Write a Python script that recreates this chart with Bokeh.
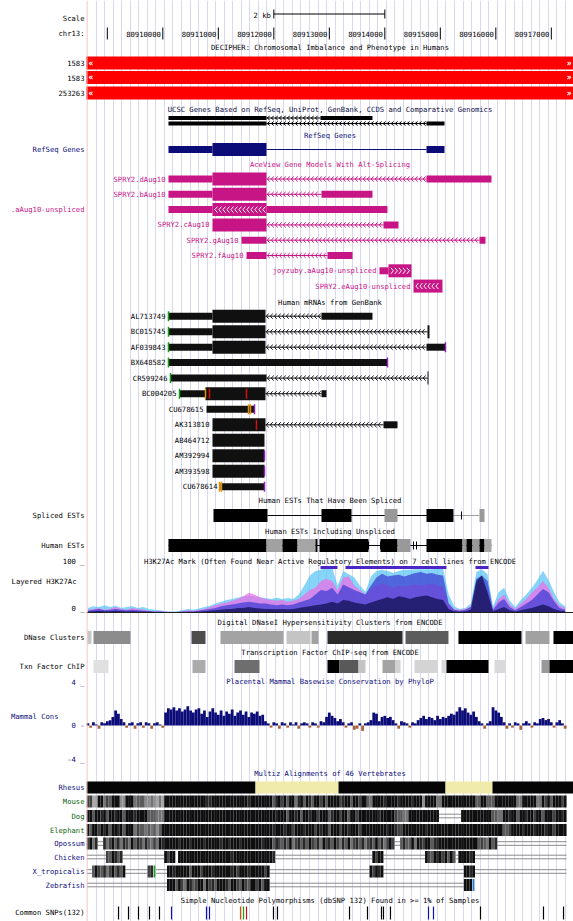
import numpy as np
from bokeh.plotting import figure
from bokeh.layouts import row
from bokeh.models import Range1d, FixedTicker, Grid, Span
from bokeh.embed import file_html
from bokeh.resources import INLINE
from bokeh.core.properties import value

# ====================== DATA (chr13, genomic coordinates) ======================
WINDOW = [80908625, 80917400]
RULER_TICKS = [80909000, 80910000, 80911000, 80912000, 80913000,
               80914000, 80915000, 80916000, 80917000]
RULER_LABELS = ["", "80910000", "80911000", "80912000", "80913000",
                "80914000", "80915000", "80916000", "80917000"]
SCALE_BAR = [80912000, 80914000]
SCALE_LABEL = "2 kb"

TRACK_TITLES = [
    "DECIPHER: Chromosomal Imbalance and Phenotype in Humans",
    "UCSC Genes Based on RefSeq, UniProt, GenBank, CCDS and Comparative Genomics",
    "RefSeq Genes",
    "AceView Gene Models With Alt-Splicing",
    "Human mRNAs from GenBank",
    "Human ESTs That Have Been Spliced",
    "Human ESTs Including Unspliced",
    "H3K27Ac Mark (Often Found Near Active Regulatory Elements) on 7 cell lines from ENCODE",
    "Digital DNaseI Hypersensitivity Clusters from ENCODE",
    "Transcription Factor ChIP-seq from ENCODE",
    "Placental Mammal Basewise Conservation by PhyloP",
    "Multiz Alignments of 46 Vertebrates",
    "Simple Nucleotide Polymorphisms (dbSNP 132) Found in >= 1% of Samples",
]

DECIPHER_IDS = ["1583", "1583", "253263"]
DECIPHER_START = [80820000, 80820000, 80400000]
DECIPHER_END = [81050000, 81050000, 81600000]

# blocks: (start, end, is_coding)
UCSC_GENES = [
    [(80910102, 80911868, 1), (80912841, 80913778, 1)],
    [(80910102, 80911868, 1), (80914751, 80915075, 1)],
]
REFSEQ = [[(80910102, 80910895, 0), (80910895, 80911868, 1), (80914751, 80915075, 0)]]

ACEVIEW_NAMES = ["SPRY2.dAug10", "SPRY2.bAug10", "SPRY2.aAug10-unspliced", "SPRY2.cAug10",
                 "SPRY2.gAug10", "SPRY2.fAug10", "joyzuby.aAug10-unspliced",
                 "SPRY2.eAug10-unspliced"]
ACEVIEW_STRAND = ["-", "-", "-", "-", "-", "-", "+", "-"]
ACEVIEW_UNSPLICED = [False, False, True, False, False, False, True, True]
ACEVIEW_BLOCKS = [
    [(80910102, 80910895, 0), (80910895, 80911868, 1), (80914751, 80915922, 0)],
    [(80910102, 80910895, 0), (80910895, 80911868, 1), (80912859, 80913778, 0)],
    [(80910102, 80910895, 0), (80910895, 80911868, 1), (80911868, 80914048, 0)],
    [(80910895, 80911868, 1), (80913976, 80914247, 0)],
    [(80911418, 80911868, 0), (80915706, 80915814, 0)],
    [(80911508, 80911868, 0), (80912967, 80913418, 0)],
    [(80913904, 80914066, 0), (80914066, 80914481, 1)],
    [(80914517, 80915039, 1)],
]

MRNA_NAMES = ["AL713749", "BC015745", "AF039843", "BX648582", "CR599246", "BC004205",
              "CU678615", "AK313810", "AB464712", "AM392994", "AM393598", "CU678614"]
MRNA_BLOCKS = [
    [(80910102, 80910895, 0), (80910895, 80911850, 1), (80912859, 80913778, 0)],
    [(80910102, 80910895, 0), (80910895, 80911850, 1), (80914769, 80914805, 1)],
    [(80910102, 80910895, 0), (80910895, 80911850, 1), (80914751, 80915093, 0)],
    [(80910102, 80914048, 0)],
    [(80910138, 80911868, 0), (80914769, 80914787, 1)],
    [(80910301, 80910769, 0), (80910769, 80911850, 1), (80912859, 80912949, 0)],
    [(80910787, 80911652, 0)],
    [(80910895, 80911850, 1), (80913976, 80914229, 0)],
    [(80910895, 80911832, 1)],
    [(80910895, 80911832, 1)],
    [(80910895, 80911832, 1)],
    [(80911039, 80911832, 0)],
]
# (row, position, kind)
MRNA_MARKS = [
    (0, 80910102, "start"), (1, 80910102, "start"), (2, 80910102, "start"),
    (3, 80910102, "start"), (4, 80910138, "start"), (5, 80910301, "start"),
    (5, 80910769, "insert"), (5, 80910841, "mismatch"), (5, 80911508, "mismatch"),
    (6, 80911544, "insert"), (6, 80911580, "insert"), (6, 80911652, "polyA"),
    (7, 80911688, "mismatch"), (9, 80911832, "polyA"), (10, 80911832, "polyA"),
    (11, 80911021, "insert"), (11, 80911057, "insert"), (11, 80911832, "polyA"),
    (2, 80915093, "polyA"), (3, 80914048, "polyA"),
]

# (start, end, darkness %)
SPLICED_EST = [(80910913, 80911886, 100), (80912859, 80913400, 100),
               (80913994, 80914229, 40), (80914751, 80915237, 100),
               (80915706, 80915796, 40)]
SPLICED_EST_TICKS = [80915381]
HUMAN_EST = [(80910102, 80911868, 100), (80911868, 80912156, 37), (80912156, 80912427, 100),
             (80912427, 80912751, 35), (80912751, 80912787, 100), (80912823, 80913706, 100),
             (80913922, 80914229, 100), (80914229, 80914463, 40), (80914751, 80915399, 100),
             (80915399, 80915471, 40), (80915471, 80915579, 100), (80915579, 80915706, 40),
             (80915706, 80915796, 100), (80915796, 80915922, 35)]
HUMAN_EST_TICKS = [80913706, 80913922, 80914517, 80914571]

# H3K27Ac signal, sampled every 100 bp from 80908650
H3K_POS = list(range(80908650, 80917251, 100))
H3K_HUVEC = [10, 14, 12, 16, 12, 15, 10, 12, 14, 10,
             12, 8, 6, 5, 3, 2, 3, 5, 8, 6,
             9, 12, 15, 20, 24, 28, 30, 33, 36, 38,
             36, 34, 32, 30, 33, 30, 32, 30, 40, 60,
             82, 92, 95, 100, 100, 60, 92, 85, 78, 60,
             46, 80, 92, 95, 92, 88, 92, 95, 95, 96,
             96, 96, 96, 98, 98, 40, 14, 8, 10, 20,
             90, 96, 85, 14, 45, 55, 26, 12, 28, 40,
             55, 72, 93, 72, 45, 22, 14]
H3K_NHLF = [6, 8, 10, 6, 8, 12, 8, 6, 10, 8,
            6, 4, 3, 3, 2, 1, 1, 3, 5, 4,
            6, 8, 12, 16, 20, 22, 26, 30, 36, 44,
            40, 34, 30, 28, 26, 28, 24, 26, 30, 40,
            50, 55, 70, 75, 70, 50, 78, 80, 60, 50,
            40, 55, 60, 65, 60, 55, 60, 58, 60, 62,
            60, 62, 65, 60, 58, 20, 8, 6, 8, 14,
            60, 70, 50, 8, 30, 40, 18, 8, 20, 30,
            45, 55, 70, 55, 30, 15, 10]
H3K_K562 = [4, 6, 8, 5, 6, 8, 6, 5, 6, 5,
            4, 3, 2, 2, 1, 1, 1, 2, 3, 3,
            4, 6, 8, 10, 14, 16, 18, 20, 22, 24,
            22, 20, 20, 18, 16, 18, 16, 18, 22, 26,
            30, 40, 50, 48, 55, 40, 62, 56, 50, 45,
            40, 60, 78, 86, 80, 82, 84, 80, 84, 88,
            90, 86, 88, 84, 82, 20, 6, 4, 6, 12,
            75, 82, 70, 6, 22, 30, 12, 5, 12, 20,
            28, 40, 52, 45, 25, 10, 6]
H3K_H1 = [2, 3, 4, 3, 3, 4, 3, 2, 3, 2,
          2, 2, 1, 1, 0, 0, 0, 1, 1, 1,
          2, 3, 4, 5, 6, 8, 8, 10, 10, 12,
          10, 9, 8, 8, 7, 8, 7, 8, 10, 12,
          14, 16, 18, 20, 24, 20, 28, 26, 22, 20,
          18, 22, 26, 30, 34, 30, 36, 34, 30, 34,
          36, 38, 34, 30, 28, 8, 3, 2, 3, 6,
          70, 82, 45, 3, 8, 12, 5, 2, 5, 8,
          10, 14, 18, 14, 8, 4, 3]
H3K_OVERFLOW = [(80912841, 80913147), (80913292, 80915111), (80915634, 80915868)]

DNASE = [(80908643, 80908715, 22), (80908751, 80909418, 45), (80910517, 80910769, 70),
         (80911039, 80912174, 36), (80912228, 80912661, 23), (80912679, 80912805, 37),
         (80912967, 80914319, 83), (80914373, 80915147, 64), (80915327, 80916463, 100),
         (80916535, 80916967, 37), (80917039, 80917400, 100)]
TFBS = [(80908751, 80909021, 12), (80910535, 80910769, 33), (80911292, 80911742, 57),
        (80912967, 80913184, 100), (80913184, 80913526, 65), (80913526, 80913652, 23),
        (80913958, 80914193, 36), (80914193, 80914283, 18), (80914535, 80914949, 17),
        (80915021, 80915111, 15), (80915111, 80915868, 100), (80915976, 80916174, 15),
        (80916823, 80916967, 40), (80916967, 80917400, 100)]

# PhyloP, 50-bp bins starting at 80908650
CONS_POS = list(range(80908650, 80917300, 50))
CONS_VALUES = [0.2, -0.2, 0.3, 0.1, -0.3, 0.3, 0.2, 0.4, 0.5, 0.8,
               1.4, 1.1, 0.6, 0.3, -0.2, 0.2, 0.3, -0.3, 0.2, 0.3,
               -0.2, 0.3, 0.2, -0.3, 0.2, 0.3, 0.1, -0.2, 1.2, 1.6,
               1.5, 1.7, 1.4, 1.6, 1.3, 1.5, 1.8, 1.4, 1.2, 1.5,
               1.6, 1.1, 1.4, 0.8, 1.3, 1.6, 1.2, 1.0, 1.4, 0.9,
               1.3, 1.1, 1.5, 0.9, 1.2, 1.4, 1.0, 1.3, 0.8, 1.2,
               1.1, 1.3, 0.9, 1.0, 0.4, 0.2, -0.2, 0.3, 0.2, -0.3,
               0.3, 0.2, -0.2, 0.3, 0.1, 0.3, -0.3, 0.2, 0.3, 0.2,
               -0.2, 0.3, 0.2, -0.2, 0.4, 0.3, 0.8, 1.2, 0.9, 0.7,
               0.4, 0.6, 0.3, -0.2, 0.2, 0.3, -0.4, -0.3, 0.2, -0.5,
               0.2, 0.3, 0.5, 1.2, 1.1, 0.4, 0.8, 0.9, 0.7, 0.8,
               0.5, 0.2, -0.3, 0.4, 0.3, 0.2, -0.2, 0.3, 0.2, 0.5,
               0.7, 0.9, 0.6, 0.8, 0.7, 0.5, 0.9, 0.6, 0.8, 0.7,
               0.9, 1.1, 1.0, 1.3, 1.7, 1.4, 1.6, 1.2, 1.0, 1.3,
               0.8, 0.4, 0.2, -0.3, 0.2, 0.4, 1.7, 1.4, 1.2, 0.8,
               0.3, -0.3, 0.2, -0.2, 0.3, 0.2, -0.4, 0.2, 0.4, 0.2,
               -0.2, 0.3, 0.2, 0.6, 0.7, 0.5, 0.6, 0.3, -0.2, 0.3,
               0.5, 0.2, -0.3]

# Multiz: 50-bp bins from window start; digit = conservation 0-9, '=' = gap, ' ' = none
MULTIZ_BIN = 50
RHESUS = [(80908625, 80911670, "aligned"), (80911670, 80913166, "missing"),
          (80913166, 80915093, "aligned"), (80915093, 80915940, "missing"),
          (80915940, 80917400, "aligned")]
SPECIES = ["Mouse", "Dog", "Elephant", "Opossum", "Chicken", "X_tropicalis", "Zebrafish"]
MOUSE = ("7733995769" "9944999566" "6445435399" "9999999999" "9998899999"
         "9999999989" "9999999689" "7969958969" "8699796999" "9789969979"
         "9659999899" "9989999899" "9499995599" "9999999999" "6699666999"
         "9999955999" "9955979699" "979")
DOG = ("9969989699" "8996999899" "9966655599" "9999999999" "9999999999"
       "9999999999" "9999999989" "9969989699" "8997999689" "9799699799"
       "9999989999" "9766559999" "9999999===" "=====99999" "9999996655"
       "9989969989" "9799699979" "989")
ELEPHANT = ("9699798969" "9896999576" "6565646999" "9999999999" "9999999999"
            "9999999999" "9999999899" "9899799989" "9979899699" "9799899979"
            "9999999989" "9877999999" "9989999999" "9999999999" "9999999999"
            "6679999899" "9899989979" "999")
OPOSSUM = ("7958==8579" "6858759687" "5865759899" "9998999899" "9989999989"
           "9899989999" "9998999687" "6869578686" "9768597869" "7586957868"
           "5786968579" "7==6866959" "8799688999" "9999999999" "96765968=="
           "==========" "==========" "===")
CHICKEN = ("=======769" "868=======" "========97" "99 9999999" "9999999999"
           "9989999999" "99999998==" "==========" "==========" "=========="
           "===9799===" "==========" "==97698979" "696=999989" "=========="
           "==========" "==========" "===")
X_TROPICALIS = ("==69768579" "6869======" "==78g====9" "9899999699" "9799989999"
                "9989799989" "999979====" "==========" "==========" "=========="
                "==97989===" "==========" "==========" "======9989" "=========="
                "==========" "==========" "===")
ZEBRAFISH = ("==========" "==========" "=========9" "9969759867" "9959786999"
             "8699769769" "979699====" "==========" "==========" "=========="
             "==========" "==========" "==========" "======999c" "          "
             "          " "          " "   ")
MULTIZ_CODES = [MOUSE, DOG, ELEPHANT, OPOSSUM, CHICKEN, X_TROPICALIS, ZEBRAFISH]

SNP_POS = [80909202, 80909382, 80909562, 80909760, 80909940, 80910157, 80910787,
           80910841, 80911400, 80911454, 80911508, 80911994, 80912066, 80913364,
           80913688, 80913940, 80913976, 80914102, 80914787, 80914877, 80915724,
           80916859, 80917220]
SNP_FUNC = ["intron", "intron", "intron", "intron", "intron", "utr", "utr",
            "utr", "splice", "synonymous", "missense", "intron", "intron", "intron",
            "intron", "intron", "intron", "intron", "utr", "utr", "intron",
            "intron", "intron"]

# ====================== STYLE / LAYOUT ======================
FONT = value("DejaVu Sans Mono")
FS = "7.2px"
NAVY = "#0c0c78"
MAGENTA = "#c71585"
GREEN = "#0c640c"
W_LEFT, W_TRACK, H = 86, 487, 921
Y_TOP, Y_BOTTOM = 0, 921
BP_PER_PX = 18.018
GRID_START, GRID_STEP = 80908800, 153.7

TITLE_Y = [47, 109, 135, 164, 302, 500, 531, 561, 622, 652, 681, 773, 900]
TITLE_COLORS = ["black", "#0c0c40", NAVY, MAGENTA, "black", "black", "black",
                "black", "black", "black", NAVY, NAVY, "black"]
DECIPHER_Y = [62.5, 77, 92.5]
UCSC_Y = [117.5, 123]
REFSEQ_Y = [149]
ACE_Y = [178.5, 193.8, 209.1, 224.4, 239.7, 255, 270.3, 285.6]
MRNA_Y = [315.7, 331.3, 346.7, 362, 377.6, 393.2, 408.7, 424.3, 439.8, 455.2, 470.7, 486.2]
SPLICED_Y, HEST_Y = 515, 545
H3K_BASE_Y, H3K_PX_PER_UNIT = 612, 0.45
CONS_BASE_Y, CONS_PX_PER_UNIT = 725, 10.75
DNASE_Y, TFBS_Y = 637, 666
RHESUS_Y = 787
SPECIES_Y = [801, 815.5, 829.5, 843, 856.5, 871, 884.5]
SNP_Y = (906, 919)
MARK_COLORS = {"start": "#10a010", "insert": "#e09000", "mismatch": "#d01010", "polyA": "#9020c0"}
SNP_COLORS = {"intron": "black", "utr": "#1010c0", "splice": "#e05000",
              "synonymous": "#10a010", "missense": "#d01010"}
H3K_COLORS = [("#58c4f4", H3K_HUVEC), ("#ee6ee6", H3K_NHLF), ("#3c3cd2", H3K_K562), ("#0e0e4e", H3K_H1)]


def gray(level):
    level = int(max(0, min(255, level)))
    return "#%02x%02x%02x" % (level, level, level)


def dark_color(d):
    return gray(round(255 * (1 - d / 100.0)))


def digit_color(ch):
    return gray(240 - int(ch) * 25)


def chevrons(x0, x1, y, strand, step=72, hw=23, hh=2.5):
    xs, ys = [], []
    c = x0 + step / 2.0
    while c < x1 - hw:
        if strand == "-":
            xs.append([c + hw, c - hw, c + hw])
        else:
            xs.append([c - hw, c + hw, c - hw])
        ys.append([y - hh, y, y + hh])
        c += step
    return xs, ys


def txt(fig, xs, ys, texts, colors="black", align="right", xoff=0, size=FS, bold=False):
    n = len(xs)
    if isinstance(colors, str):
        colors = [colors] * n
    fig.text(x=xs, y=ys, text=texts, text_color=colors, text_align=align,
             text_baseline="middle", x_offset=xoff, text_font=FONT,
             text_font_size=size, text_font_style="bold" if bold else "normal")


def draw_models(fig, models, ys, color, thick_h=13, thin_h=7, strands=None,
                chevron=True, hh=2.5, arrows_in=None):
    L, R, T, B = [], [], [], []
    lx0, lx1, ly = [], [], []
    cxs, cys, wxs, wys = [], [], [], []
    for k, (blocks, y) in enumerate(zip(models, ys)):
        strand = strands[k] if strands else "-"
        for (s, e, cds) in blocks:
            h = thick_h if cds else thin_h
            L.append(s); R.append(e); T.append(y - h / 2.0); B.append(y + h / 2.0)
            if arrows_in and arrows_in[k] and cds:
                a, b = chevrons(s + 30, e - 10, y, strand, hh=3)
                wxs += a; wys += b
        for a, b in zip(blocks[:-1], blocks[1:]):
            if b[0] > a[1]:
                lx0.append(a[1]); lx1.append(b[0]); ly.append(y)
                if chevron:
                    xx, yy = chevrons(a[1], b[0], y, strand, hh=hh)
                    cxs += xx; cys += yy
    if lx0:
        fig.segment(x0=lx0, y0=ly, x1=lx1, y1=ly, line_color=color, line_width=1)
    if cxs:
        fig.multi_line(xs=cxs, ys=cys, line_color=color, line_width=1)
    fig.quad(left=L, right=R, top=T, bottom=B, fill_color=color, line_color=None)
    if wxs:
        fig.multi_line(xs=wxs, ys=wys, line_color="white", line_width=1)


# ====================== TRACK FIGURE ======================
x_lo = WINDOW[0]
x_hi = WINDOW[0] + W_TRACK * BP_PER_PX
x_mid = (WINDOW[0] + WINDOW[1]) / 2.0

p = figure(width=W_TRACK, height=H, x_range=Range1d(x_lo, x_hi),
           y_range=Range1d(Y_BOTTOM, Y_TOP), output_backend="svg",
           toolbar_location=None, x_axis_location=None, y_axis_location=None,
           min_border=0, outline_line_color=None)
p.grid.visible = False
p.add_layout(Grid(dimension=0, ticker=FixedTicker(ticks=list(np.arange(GRID_START, x_hi, GRID_STEP))),
                  grid_line_color="#d8d8f2", grid_line_width=1))
p.add_layout(Span(location=x_lo + 0.5 * BP_PER_PX, dimension="height",
                  line_color="#f2b4b4", line_width=1))
p.extra_y_ranges = {
    "h3k": Range1d(start=(H3K_BASE_Y - Y_BOTTOM) / H3K_PX_PER_UNIT,
                   end=(H3K_BASE_Y - Y_TOP) / H3K_PX_PER_UNIT),
    "cons": Range1d(start=(CONS_BASE_Y - Y_BOTTOM) / CONS_PX_PER_UNIT,
                    end=(CONS_BASE_Y - Y_TOP) / CONS_PX_PER_UNIT),
}

# scale bar + ruler
p.segment(x0=[SCALE_BAR[0]], x1=[SCALE_BAR[1]], y0=[13.5], y1=[13.5], line_color="black")
p.segment(x0=SCALE_BAR, x1=SCALE_BAR, y0=[9, 9], y1=[18, 18], line_color="black")
txt(p, [SCALE_BAR[0]], [15], [SCALE_LABEL], xoff=-3)
n = len(RULER_TICKS)
p.segment(x0=RULER_TICKS, x1=RULER_TICKS, y0=[27] * n, y1=[39] * n, line_color="black")
txt(p, RULER_TICKS, [33] * n, RULER_LABELS, xoff=-2)

# titles
txt(p, [x_mid] * len(TRACK_TITLES), TITLE_Y, TRACK_TITLES, TITLE_COLORS, align="center")

# DECIPHER
p.quad(left=DECIPHER_START, right=DECIPHER_END, top=[y - 6.5 for y in DECIPHER_Y],
       bottom=[y + 6.5 for y in DECIPHER_Y], fill_color="#ff0000", line_color=None)
txt(p, [x_lo] * 3, DECIPHER_Y, ["«"] * 3, "white", align="left", xoff=2, size="8px", bold=True)
txt(p, [x_hi] * 3, DECIPHER_Y, ["»"] * 3, "white", align="right", xoff=-2, size="8px", bold=True)

# UCSC genes, RefSeq
draw_models(p, UCSC_GENES, UCSC_Y, "#000000", thick_h=4, thin_h=2, hh=2)
draw_models(p, REFSEQ, REFSEQ_Y, NAVY, chevron=False)

# AceView
draw_models(p, ACEVIEW_BLOCKS, ACE_Y, MAGENTA, strands=ACEVIEW_STRAND, arrows_in=ACEVIEW_UNSPLICED)
ace_lab = [(b[0][0], y, nm) for b, y, nm in zip(ACEVIEW_BLOCKS, ACE_Y, ACEVIEW_NAMES)
           if nm != "SPRY2.aAug10-unspliced"]
txt(p, [a[0] for a in ace_lab], [a[1] for a in ace_lab], [a[2] for a in ace_lab], MAGENTA, xoff=-3)

# mRNAs
draw_models(p, MRNA_BLOCKS, MRNA_Y, "#101010")
txt(p, [b[0][0] for b in MRNA_BLOCKS], MRNA_Y, MRNA_NAMES, xoff=-3)
p.segment(x0=[m[1] for m in MRNA_MARKS], x1=[m[1] for m in MRNA_MARKS],
          y0=[MRNA_Y[m[0]] - 5 for m in MRNA_MARKS], y1=[MRNA_Y[m[0]] + 5 for m in MRNA_MARKS],
          line_color=[MARK_COLORS[m[2]] for m in MRNA_MARKS], line_width=1.5)

# spliced ESTs
p.segment(x0=[SPLICED_EST[0][1]], x1=[SPLICED_EST[3][1]], y0=[SPLICED_Y], y1=[SPLICED_Y], line_color="black")
p.segment(x0=[SPLICED_EST[3][1]], x1=[SPLICED_EST[4][0]], y0=[SPLICED_Y], y1=[SPLICED_Y], line_color="#a0a0a0")
p.segment(x0=SPLICED_EST_TICKS, x1=SPLICED_EST_TICKS, y0=[SPLICED_Y - 4], y1=[SPLICED_Y + 4], line_color="black")
p.quad(left=[b[0] for b in SPLICED_EST], right=[b[1] for b in SPLICED_EST],
       top=[SPLICED_Y - 6.5] * len(SPLICED_EST), bottom=[SPLICED_Y + 6.5] * len(SPLICED_EST),
       fill_color=[dark_color(b[2]) for b in SPLICED_EST], line_color=None)

# human ESTs
p.segment(x0=[HUMAN_EST[0][0]], x1=[HUMAN_EST[-1][1]], y0=[HEST_Y], y1=[HEST_Y], line_color="black")
p.segment(x0=HUMAN_EST_TICKS, x1=HUMAN_EST_TICKS, y0=[HEST_Y - 4] * 4, y1=[HEST_Y + 4] * 4, line_color="black")
p.quad(left=[b[0] for b in HUMAN_EST], right=[b[1] for b in HUMAN_EST],
       top=[HEST_Y - 6.5] * len(HUMAN_EST), bottom=[HEST_Y + 6.5] * len(HUMAN_EST),
       fill_color=[dark_color(b[2]) for b in HUMAN_EST], line_color=None)

# H3K27Ac layered
for col, vals in H3K_COLORS:
    p.varea(x=H3K_POS, y1=[0] * len(vals), y2=vals, fill_color=col, fill_alpha=0.72, y_range_name="h3k")
p.segment(x0=[x_lo], x1=[x_hi], y0=[0], y1=[0], line_color="#202020", line_width=1, y_range_name="h3k")
p.segment(x0=[o[0] for o in H3K_OVERFLOW], x1=[o[1] for o in H3K_OVERFLOW],
          y0=[100] * 3, y1=[100] * 3, line_color="#4a26c4", line_width=3, y_range_name="h3k")

# DNase + TFBS
for blocks, y in ((DNASE, DNASE_Y), (TFBS, TFBS_Y)):
    p.quad(left=[b[0] for b in blocks], right=[b[1] for b in blocks],
           top=[y - 6.5] * len(blocks), bottom=[y + 6.5] * len(blocks),
           fill_color=[dark_color(b[2]) for b in blocks], line_color=None)

# PhyloP conservation
p.vbar(x=CONS_POS[:len(CONS_VALUES)], top=CONS_VALUES, bottom=0, width=50,
       fill_color=[NAVY if v >= 0 else "#a8603c" for v in CONS_VALUES],
       line_color=None, y_range_name="cons")

# Multiz
p.quad(left=[r[0] for r in RHESUS], right=[r[1] for r in RHESUS],
       top=[RHESUS_Y - 6] * len(RHESUS), bottom=[RHESUS_Y + 6] * len(RHESUS),
       fill_color=["#050505" if r[2] == "aligned" else "#f0ebaa" for r in RHESUS], line_color=None)
QL, QR, QT, QB, QC = [], [], [], [], []
GX0, GX1, GY = [], [], []
for code, y in zip(MULTIZ_CODES, SPECIES_Y):
    i = 0
    while i < len(code):
        ch = code[i]
        j = i
        while j < len(code) and code[j] == ch:
            j += 1
        s, e = WINDOW[0] + i * MULTIZ_BIN, WINDOW[0] + j * MULTIZ_BIN
        if ch.isdigit():
            for k in range(i, j):
                QL.append(WINDOW[0] + k * MULTIZ_BIN); QR.append(WINDOW[0] + (k + 1) * MULTIZ_BIN)
                QT.append(y - 6); QB.append(y + 6); QC.append(digit_color(ch))
        elif ch == "=":
            GX0 += [s, s]; GX1 += [e, e]; GY += [y - 1.8, y + 1.8]
        elif ch in "gc":
            QL.append(s + 10); QR.append(s + 40); QT.append(y - 6); QB.append(y + 6)
            QC.append("#20a020" if ch == "g" else "#1a7ee0")
        i = j
p.segment(x0=GX0, x1=GX1, y0=GY, y1=GY, line_color="#8a8a8a", line_width=1)
p.quad(left=QL, right=QR, top=QT, bottom=QB, fill_color=QC, line_color=None)

# SNPs
ns = len(SNP_POS)
p.segment(x0=SNP_POS, x1=SNP_POS, y0=[SNP_Y[0]] * ns, y1=[SNP_Y[1]] * ns,
          line_color=[SNP_COLORS[f] for f in SNP_FUNC], line_width=1.2)

# ====================== LEFT LABEL FIGURE ======================
lf = figure(width=W_LEFT, height=H, x_range=Range1d(0, 86), y_range=Range1d(Y_BOTTOM, Y_TOP),
            output_backend="svg", toolbar_location=None, x_axis_location=None,
            y_axis_location=None, min_border=0, outline_line_color=None)
lf.grid.visible = False
LABELS = [
    ("Scale", 18, "black", 84), ("chr13:", 33, "black", 84),
    (DECIPHER_IDS[0], DECIPHER_Y[0], "black", 84), (DECIPHER_IDS[1], DECIPHER_Y[1], "black", 84),
    (DECIPHER_IDS[2], DECIPHER_Y[2], "black", 84),
    ("RefSeq Genes", REFSEQ_Y[0], NAVY, 84),
    (".aAug10-unspliced", ACE_Y[2], MAGENTA, 84),
    ("Spliced ESTs", SPLICED_Y, "black", 84), ("Human ESTs", HEST_Y, "black", 84),
    ("100 _", 561, "black", 84), ("Layered H3K27Ac", 581, "black", 76), ("0 _", 608, "black", 84),
    ("DNase Clusters", DNASE_Y, "black", 84), ("Txn Factor ChIP", TFBS_Y, "black", 84),
    ("4 _", 682, NAVY, 84), ("Mammal Cons", 716, NAVY, 58), ("0 -", 725, NAVY, 84),
    ("-4 _", 759, NAVY, 84),
    ("Rhesus", RHESUS_Y, NAVY, 84),
    ("Common SNPs(132)", 912, "black", 84),
]
SPECIES_COLORS = [GREEN, GREEN, GREEN, NAVY, NAVY, NAVY, NAVY]
for sp, y, c in zip(SPECIES, SPECIES_Y, SPECIES_COLORS):
    LABELS.append((sp, y, c, 84))
txt(lf, [l[3] for l in LABELS], [l[1] for l in LABELS], [l[0] for l in LABELS],
    [l[2] for l in LABELS])

layout = row(lf, p)
open("out.html", "w").write(file_html(layout, INLINE, "UCSC Genome Browser"))
